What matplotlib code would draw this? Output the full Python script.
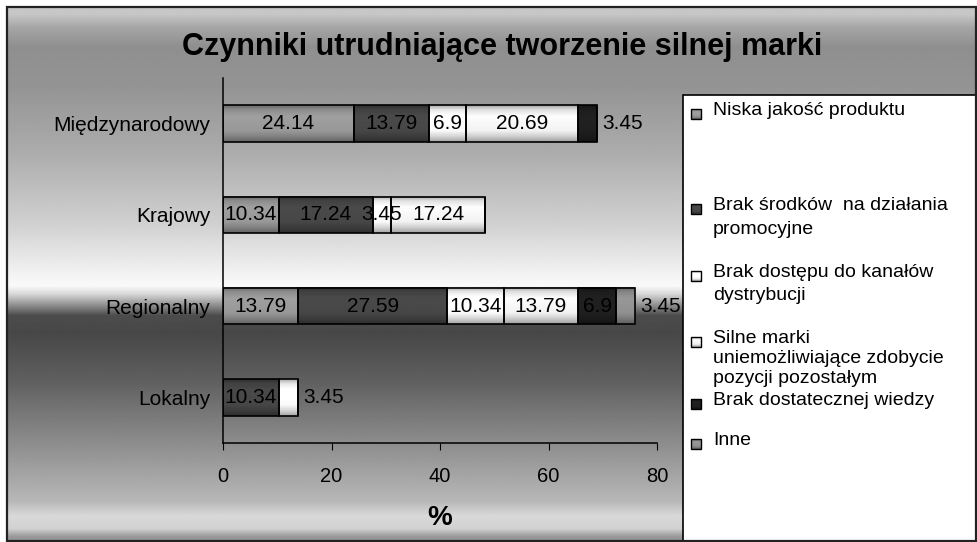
import matplotlib
matplotlib.use("Agg")
import matplotlib.pyplot as plt
from matplotlib.patches import Rectangle
import numpy as np

plt.rcParams['font.family'] = ['Liberation Sans', 'DejaVu Sans']

# data
categories = ["Międzynarodowy", "Krajowy", "Regionalny", "Lokalny"]
series_names = [
    "Niska jakość produktu",
    "Brak środków  na działania\npromocyjne",
    "Brak dostępu do kanałów\ndystrybucji",
    "Silne marki\nuniemożliwiające zdobycie\npozycji pozostałym",
    "Brak dostatecznej wiedzy",
    "Inne",
]
niska = [24.14, 10.34, 13.79, 0]
srodki = [13.79, 17.24, 27.59, 10.34]
dostep = [6.9, 3.45, 10.34, 3.45]
silne = [20.69, 17.24, 13.79, 0]
wiedza = [3.45, 0, 6.9, 0]
inne = [0, 0, 3.45, 0]
series = [niska, srodki, dostep, silne, wiedza, inne]
xticks = [0, 20, 40, 60, 80]

# styling
grays = [0.58, 0.27, 0.95, 0.92, 0.12, 0.55]
W, H = 977, 542


def bar_shade(base, n=64):
    t = np.linspace(0, 1, n)
    f = np.interp(t, [0, 0.12, 0.3, 0.7, 0.85, 1.0], [0.7, 0.95, 1.08, 1.03, 0.88, 0.68])
    return np.clip(base * f, 0, 1).reshape(-1, 1)


fig = plt.figure(figsize=(W / 100, H / 100), dpi=100, facecolor='white')

# background layer in pixel coordinates
fr = fig.add_axes([0, 0, 1, 1], zorder=-1)
fr.axis('off')
yy = np.arange(H)
bg = np.interp(yy, [7, 20, 40, 80, 150, 220, 270, 282, 290, 300, 312, 330, 380, 440, 500, 515, 528, 536, 542],
               [0.78, 0.65, 0.56, 0.58, 0.68, 0.82, 0.95, 0.98, 0.85, 0.6, 0.3, 0.28, 0.38, 0.55, 0.72, 0.85, 0.82, 0.6, 0.55])
fr.imshow(bg.reshape(-1, 1), cmap='gray', vmin=0, vmax=1, aspect='auto',
          extent=[7, W, H, 7], origin='upper', interpolation='bilinear', zorder=0)
fr.add_patch(Rectangle((7, 7), W - 8, H - 8, fill=False, edgecolor='#222222', lw=1.6, zorder=5))

fr.text(502, 47, "Czynniki utrudniające tworzenie silnej marki", ha='center', va='center',
        fontsize=22, fontweight='bold')
fr.text(440, 518, "%", ha='center', va='center', fontsize=20, fontweight='bold')

# legend box
fr.add_patch(Rectangle((683, 95), 320, 470, facecolor='white', edgecolor='black', lw=1.2, zorder=1))
legend_y = [110, 205, 272, 338, 400, 440]
legend_ls = [1.5, 1.5, 1.5, 1.22, 1.5, 1.5]
for name, g, ly, ls in zip(series_names, grays, legend_y, legend_ls):
    fr.imshow(bar_shade(g), cmap='gray', vmin=0, vmax=1, aspect='auto',
              extent=[691, 701, ly + 9, ly - 1], origin='upper', zorder=2)
    fr.add_patch(Rectangle((691, ly - 1), 10, 10, fill=False, edgecolor='black', lw=1, zorder=3))
    fr.text(713, ly - 8, name, ha='left', va='top', fontsize=14, linespacing=ls, zorder=3)
fr.set_xlim(0, W)
fr.set_ylim(H, 0)

# main chart
ax = fig.add_axes([223 / W, (H - 443) / H, (657 - 223) / W, (443 - 78) / H])
ax.set_facecolor('none')
y = np.arange(len(categories))
left = np.zeros(len(categories))
totals = np.sum(series, axis=0)
for vals, g in zip(series, grays):
    bars = ax.barh(y, vals, left=left, height=0.4, color='none', edgecolor='black', lw=1.2, zorder=2)
    for i, (p, v) in enumerate(zip(bars, vals)):
        if v <= 0:
            continue
        x0, y0, w, h = p.get_x(), p.get_y(), p.get_width(), p.get_height()
        ax.imshow(bar_shade(g), cmap='gray', vmin=0, vmax=1, aspect='auto',
                  extent=[x0, x0 + w, y0 + h, y0], origin='upper', zorder=1.5)
        last = np.isclose(x0 + w, totals[i])
        if last and v < 5:
            ax.annotate(f"{v:g}", (totals[i], y[i]), xytext=(4, 0), textcoords='offset points',
                        ha='left', va='center', fontsize=15, zorder=3)
        else:
            ax.text(x0 + w / 2, y[i], f"{v:g}", ha='center', va='center', fontsize=15, zorder=3)
    left += np.array(vals)

ax.set_xlim(0, 80)
ax.set_ylim(3.5, -0.5)
ax.set_xticks(xticks)
ax.set_yticks(y)
ax.set_yticklabels(categories)
ax.tick_params(axis='x', direction='out', length=5, pad=12, labelsize=14.5)
ax.tick_params(axis='y', length=0, pad=9, labelsize=15)
for s in ['top', 'right']:
    ax.spines[s].set_visible(False)
ax.spines['left'].set_linewidth(1.1)
ax.spines['bottom'].set_linewidth(1.1)

fig.savefig("out.png", dpi=100)
